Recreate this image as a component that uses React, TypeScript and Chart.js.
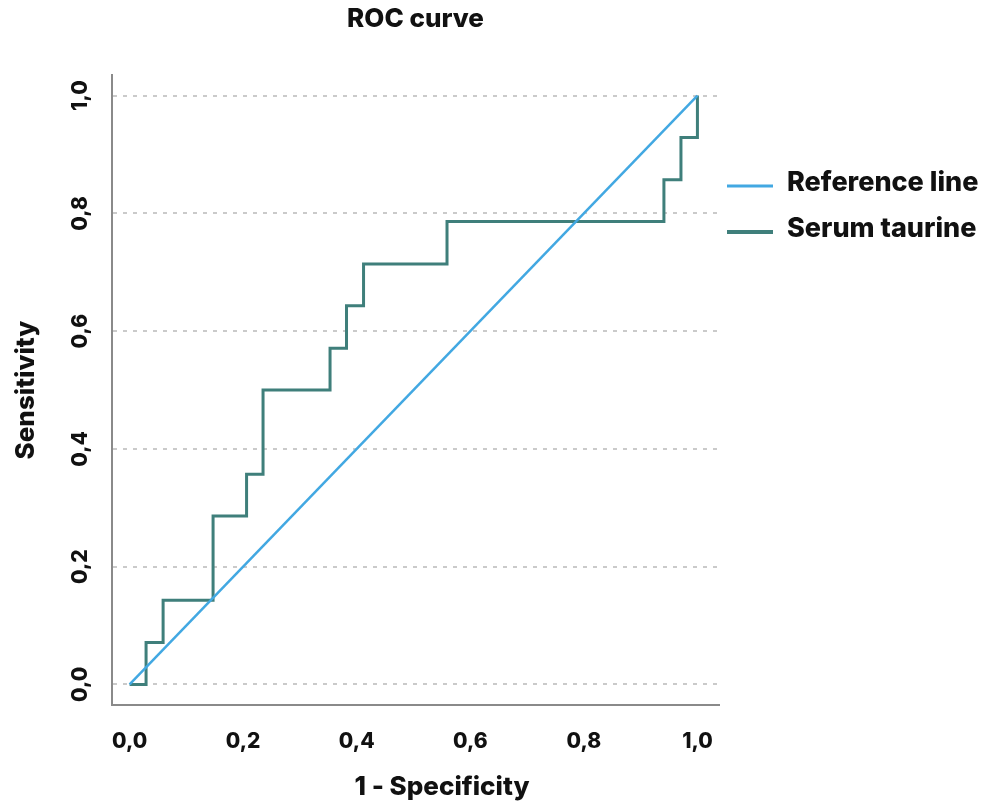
import React, { useEffect, useRef } from "react";
import { Chart, registerables } from "chart.js";

Chart.register(...registerables);

// ---- data ----
const CHART_TITLE = "ROC curve";
const X_TITLE = "1 - Specificity";
const Y_TITLE = "Sensitivity";
const SERIES_LABELS = ["Reference line", "Serum taurine"];
const SERIES_COLORS = ["#42a8e2", "#3f7f7b"];

const referenceX = [0, 1];
const referenceY = [0, 1];

// corner points of the stepped ROC curve (1 - specificity, sensitivity)
const rocFpr = [0, 0.029, 0.059, 0.147, 0.206, 0.235, 0.353, 0.382, 0.412, 0.559, 0.941, 0.971, 1.0];
const rocTpr = [0, 0.071, 0.143, 0.286, 0.357, 0.5, 0.571, 0.643, 0.714, 0.786, 0.857, 0.929, 1.0];

const xTickValues = [0, 0.2, 0.4, 0.6, 0.8, 1.0];
const yTickValues = [0, 0.2, 0.4, 0.6, 0.8, 1.0];

const FONT_FAMILY = "Inter, 'Liberation Sans', Arial, sans-serif";
const FONT_WEIGHT = "800";
const TEXT_COLOR = "#111111";

const fmt = (v: number) => v.toFixed(1).replace(".", ",");

const sideLegend = {
  id: "sideLegend",
  afterDraw(chart: any) {
    const ctx = chart.ctx;
    const area = chart.chartArea;
    ctx.save();
    const widths = [3, 4];
    chart.data.datasets.forEach((ds: any, i: number) => {
      const y = 186 + i * 46;
      ctx.strokeStyle = ds.borderColor;
      ctx.lineWidth = widths[i];
      ctx.beginPath();
      ctx.moveTo(area.right + 8, y);
      ctx.lineTo(area.right + 54, y);
      ctx.stroke();
      ctx.fillStyle = TEXT_COLOR;
      ctx.font = `${FONT_WEIGHT} 27px ${FONT_FAMILY}`;
      ctx.textAlign = "left";
      ctx.textBaseline = "middle";
      ctx.fillText(ds.label, area.right + 68, y - 3);
    });
    // x axis title
    ctx.font = `${FONT_WEIGHT} 26px ${FONT_FAMILY}`;
    ctx.textAlign = "center";
    ctx.textBaseline = "middle";
    ctx.fillStyle = TEXT_COLOR;
    ctx.fillText(X_TITLE, 442, 787);
    ctx.restore();
  },
};

export default function App() {
  const canvasRef = useRef<HTMLCanvasElement | null>(null);

  useEffect(() => {
    if (!canvasRef.current) return;
    const chart = new Chart(canvasRef.current, {
      type: "line",
      data: {
        datasets: [
          {
            label: SERIES_LABELS[0],
            data: referenceX.map((x, i) => ({ x, y: referenceY[i] })),
            borderColor: SERIES_COLORS[0],
            backgroundColor: SERIES_COLORS[0],
            borderWidth: 2.5,
            pointRadius: 0,
            tension: 0,
          },
          {
            label: SERIES_LABELS[1],
            data: rocFpr.map((x, i) => ({ x, y: rocTpr[i] })),
            borderColor: SERIES_COLORS[1],
            backgroundColor: SERIES_COLORS[1],
            borderWidth: 3,
            pointRadius: 0,
            stepped: "before",
          },
        ],
      },
      options: {
        animation: false,
        responsive: true,
        maintainAspectRatio: false,
        layout: { padding: { left: 0, right: 275, top: 0, bottom: 0 } },
        plugins: {
          legend: { display: false },
          tooltip: { enabled: false },
          title: {
            display: true,
            text: CHART_TITLE,
            fullSize: false,
            color: TEXT_COLOR,
            font: { family: FONT_FAMILY, size: 26, weight: FONT_WEIGHT },
            padding: { top: 4, bottom: 39.8 },
          },
        },
        scales: {
          x: {
            type: "linear",
            min: -0.031,
            max: 1.038,
            afterBuildTicks: (scale: any) => {
              scale.ticks = xTickValues.map((v) => ({ value: v }));
            },
            afterFit: (scale: any) => {
              scale.height = 98;
            },
            grid: { display: false, drawTicks: false },
            border: { display: true, color: "#8a8a8a", width: 2 },
            ticks: {
              callback: (v: any) => fmt(Number(v)),
              color: TEXT_COLOR,
              font: { family: FONT_FAMILY, size: 21, weight: FONT_WEIGHT },
              padding: 24,
              minRotation: 0,
              maxRotation: 0,
              autoSkip: false,
            },
            title: { display: false },
          },
          y: {
            type: "linear",
            min: -0.035,
            max: 1.035,
            afterBuildTicks: (scale: any) => {
              scale.ticks = yTickValues.map((v) => ({ value: v }));
            },
            afterFit: (scale: any) => {
              scale.width = 112;
            },
            grid: {
              display: true,
              drawTicks: false,
              color: "#cacaca",
              lineWidth: 2,
            },
            border: { display: true, color: "#8a8a8a", width: 2, dash: [4, 6] },
            ticks: {
              callback: (v: any) => fmt(Number(v)),
              color: TEXT_COLOR,
              font: { family: FONT_FAMILY, size: 21, weight: FONT_WEIGHT },
              padding: 13,
              minRotation: 90,
              maxRotation: 90,
              crossAlign: "center",
              autoSkip: false,
            },
            title: {
              display: true,
              text: Y_TITLE,
              color: TEXT_COLOR,
              font: { family: FONT_FAMILY, size: 26, weight: FONT_WEIGHT },
              padding: { top: 11, bottom: 0 },
            },
          },
        },
      },
      plugins: [sideLegend],
    } as any);
    return () => chart.destroy();
  }, []);

  return (
    <div style={{ position: "absolute", left: 0, top: 0, width: 994, height: 803 }}>
      <canvas ref={canvasRef} />
    </div>
  );
}
